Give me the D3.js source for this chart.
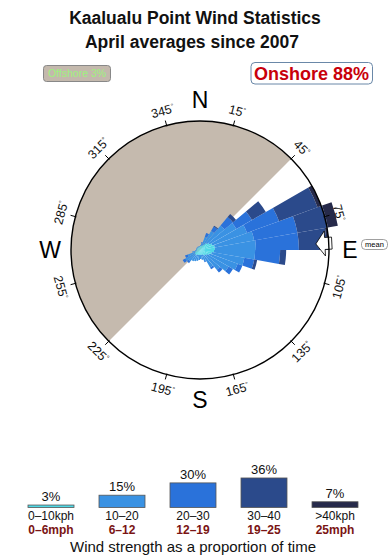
<!DOCTYPE html>
<html><head><meta charset="utf-8">
<script src="https://cdn.jsdelivr.net/npm/d3@7"></script>
<style>
body{margin:0;background:#fff}
svg{display:block;font-family:"Liberation Sans",Arial,Helvetica,sans-serif}
</style>
</head><body>
<svg id="chart" width="390" height="560"></svg>
<script>
// ---------- data ----------
const titleText = "Kaalualu Point Wind Statistics";
const subtitleText = "April averages since 2007";
const offshorePct = 3;
const onshorePct = 88;
const meanDirection = 87;          // degrees, wind "from"
const offshoreSector = [225, 405]; // shaded offshore half (225° -> 45° via N)

// direction bins (start angle, 10° wide)
const directionBins = d3.range(0, 360, 10);
const speedKeys = ["s0", "s1", "s2", "s3", "s4"];

// frequency per direction bin for each speed class (radial units)
const s0 = [0.31,0.31,0.39,0.47,0.70,0.85,1.01,1.16,1.16,1.09,0.93,0.78,0.62,0.54,0.47,0.39,0.39,0.39,0.39,0.39,0.39,0.47,0.47,0.47,0.39,0.31,0.23,0.23,0.23,0.23,0.23,0.23,0.23,0.23,0.23,0.23];
const s1 = [0.08,0.23,0.70,1.24,1.78,2.40,2.87,3.10,3.18,3.18,2.56,2.33,1.94,1.47,1.09,0.54,0.39,0.31,0.39,0.47,0.54,0.54,0.70,0.85,0.62,0.31,0.16,0.08,0.08,0.08,0.08,0.08,0.08,0.08,0.08,0.08];
const s2 = [0,0.08,0.31,0.39,0.85,1.40,2.64,3.41,3.33,1.94,0.78,0.39,0.39,0.27,0.16,0.08,0,0,0,0,0,0,0.16,0.23,0.23,0,0,0,0,0,0,0,0,0,0,0];
const s3 = [0,0,0,0.08,0.31,1.24,3.18,2.40,2.17,0.47,0.23,0,0,0,0,0,0,0,0,0,0,0,0,0,0,0,0,0,0,0,0,0,0,0,0,0];
const s4 = [0,0,0,0,0,0,0.31,0.78,0.16,0,0,0,0,0,0,0,0,0,0,0,0,0,0,0,0,0,0,0,0,0,0,0,0,0,0,0];

// legend
const legendPct = [3, 15, 30, 36, 7];
const kphLabels = ["0–10kph", "10–20", "20–30", "30–40", ">40kph"];
const mphLabels = ["0–6mph", "6–12", "12–19", "19–25", "25mph"];
const speedColors = ["#4fd9e6", "#3a92e3", "#2a72da", "#2b4a8b", "#262a4a"];

// compass
const degreeTicks = [15, 45, 75, 105, 135, 165, 195, 225, 255, 285, 315, 345];
const cardinals = [["N", 0], ["E", 90], ["S", 180], ["W", 270]];

// ---------- drawing ----------
const svg = d3.select("#chart");
const cx = 200, cy = 250, R = 129;
const rad = d => d * Math.PI / 180;
const pol = (deg, r) => [cx + r * Math.sin(rad(deg)), cy - r * Math.cos(rad(deg))];

// titles
svg.append("text").attr("x", 195).attr("y", 24).attr("text-anchor", "middle")
  .attr("font-size", 17.5).attr("font-weight", "bold").attr("fill", "#111").text(titleText);
svg.append("text").attr("x", 192).attr("y", 48).attr("text-anchor", "middle")
  .attr("font-size", 17.5).attr("font-weight", "bold").attr("fill", "#111").text(subtitleText);

// offshore / onshore boxes
const off = svg.append("g");
off.append("rect").attr("x", 43.5).attr("y", 65.5).attr("width", 67).attr("height", 16).attr("rx", 3)
  .attr("fill", "#c4b9ad").attr("stroke", "#888").attr("stroke-width", 1);
off.append("text").attr("x", 77).attr("y", 77).attr("text-anchor", "middle")
  .attr("font-size", 10.5).attr("fill", "#9ef27e").text(`Offshore ${offshorePct}%`);

const on = svg.append("g");
on.append("rect").attr("x", 251).attr("y", 62.5).attr("width", 121.5).attr("height", 21.5).attr("rx", 4)
  .attr("fill", "#fff").attr("stroke", "#6a88a8").attr("stroke-width", 1);
on.append("text").attr("x", 311.5).attr("y", 80).attr("text-anchor", "middle")
  .attr("font-size", 18).attr("font-weight", "bold").attr("fill", "#c8000a").text(`Onshore ${onshorePct}%`);

// rose group
const g = svg.append("g").attr("transform", `translate(${cx},${cy})`);
g.append("circle").attr("r", R).attr("fill", "#fff");

const arc = d3.arc();
g.append("path").attr("fill", "#c5baae").attr("d", arc({
  innerRadius: 0, outerRadius: R,
  startAngle: rad(offshoreSector[0]), endAngle: rad(offshoreSector[1])
}));

const rScale = d3.scaleLinear().domain([0, 10]).range([0, R]);
const table = directionBins.map((d, i) => ({ dir: d, s0: s0[i], s1: s1[i], s2: s2[i], s3: s3[i], s4: s4[i] }));
const stacked = d3.stack().keys(speedKeys)(table);

stacked.forEach((layer, k) => {
  g.append("g").selectAll("path").data(layer.filter(d => d[1] > d[0])).join("path")
    .attr("fill", speedColors[k])
    .attr("d", d => arc({
      innerRadius: rScale(d[0]), outerRadius: rScale(d[1]),
      startAngle: rad(d.data.dir), endAngle: rad(d.data.dir + 10)
    }));
});

// mean arrow
const ag = g.append("g").attr("transform", `rotate(${meanDirection - 90})`);
ag.append("path").attr("fill", "#fff").attr("stroke", "#000").attr("stroke-width", 0.8)
  .attr("d", "M116,0 L125,-12.5 L125,-6 L132,-6 L132,6 L125,6 L125,12.5 Z");

// outer circle
g.append("circle").attr("r", R).attr("fill", "none").attr("stroke", "#000").attr("stroke-width", 1.4);

// ticks & degree labels
degreeTicks.forEach(a => {
  const [x1, y1] = pol(a, R - 1), [x2, y2] = pol(a, R + 5);
  svg.append("line").attr("x1", x1).attr("y1", y1).attr("x2", x2).attr("y2", y2)
    .attr("stroke", "#000").attr("stroke-width", 1);
  const [tx, ty] = pol(a, 144);
  let rot = a;
  if (a > 90 && a < 270) rot = a - 180;
  else if (a >= 270) rot = a - 360;
  const t = svg.append("text").attr("transform", `translate(${tx},${ty}) rotate(${rot})`)
    .attr("text-anchor", "middle").attr("dy", "0.35em").attr("font-size", 12.5).attr("fill", "#111");
  t.append("tspan").text(a);
  t.append("tspan").attr("font-size", 7).attr("dy", "-0.6em").text("°");
});

// cardinals
cardinals.forEach(([lab, a]) => {
  const [x, y] = pol(a, 150);
  svg.append("text").attr("x", x).attr("y", y).attr("dy", "0.36em").attr("text-anchor", "middle")
    .attr("font-size", 23).attr("fill", "#000").text(lab);
});

// mean label
svg.append("rect").attr("x", 361.5).attr("y", 239.5).attr("width", 26).attr("height", 10).attr("rx", 4)
  .attr("fill", "#fff").attr("stroke", "#888").attr("stroke-width", 0.8);
svg.append("text").attr("x", 374.5).attr("y", 247.3).attr("text-anchor", "middle")
  .attr("font-size", 7.5).attr("fill", "#000").text("mean");

// legend
const lx = d3.scalePoint().domain(d3.range(legendPct.length)).range([51, 335]);
const lh = d3.scaleLinear().domain([0, 100]).range([0, 82]);
const baseY = 507.5, bw = 46;
const lg = svg.append("g");
legendPct.forEach((p, i) => {
  const x = lx(i);
  lg.append("rect").attr("x", x - bw / 2).attr("y", baseY - lh(p)).attr("width", bw).attr("height", lh(p))
    .attr("fill", speedColors[i]).attr("stroke", "#555").attr("stroke-width", 0.8);
  lg.append("text").attr("x", x).attr("y", baseY - lh(p) - 4).attr("text-anchor", "middle")
    .attr("font-size", 13).attr("fill", "#111").text(p + "%");
  lg.append("text").attr("x", x).attr("y", 520).attr("text-anchor", "middle")
    .attr("font-size", 12).attr("fill", "#111").text(kphLabels[i]);
  lg.append("text").attr("x", x).attr("y", 533.8).attr("text-anchor", "middle")
    .attr("font-size", 12).attr("font-weight", "bold").attr("fill", "#7a1414").text(mphLabels[i]);
});
svg.append("text").attr("x", 193).attr("y", 551.5).attr("text-anchor", "middle")
  .attr("font-size", 15).attr("fill", "#111").text("Wind strength as a proportion of time");
</script>
</body></html>
